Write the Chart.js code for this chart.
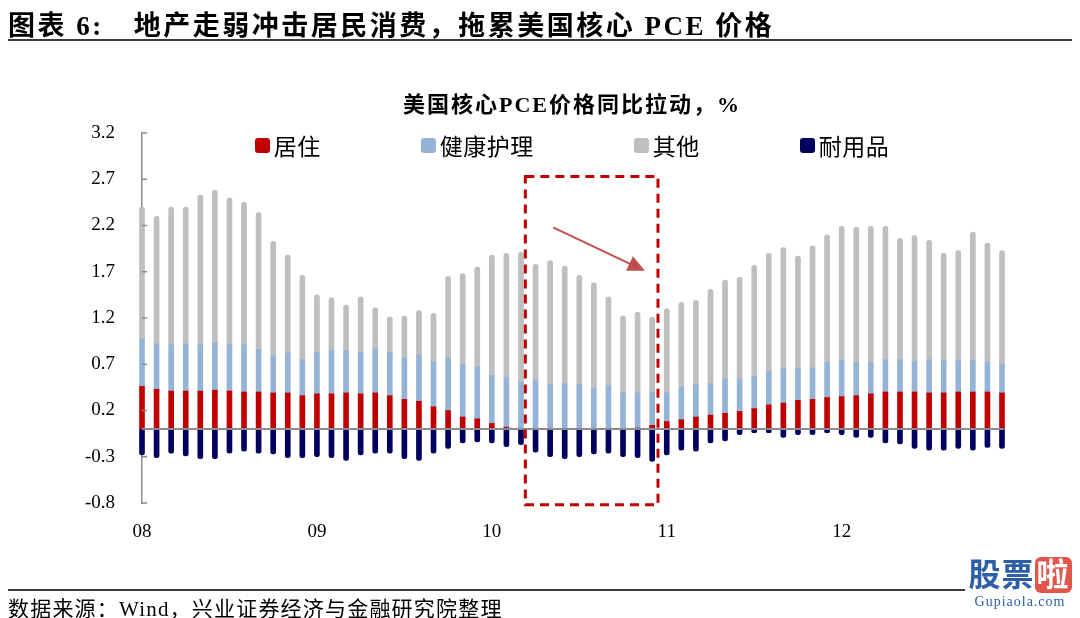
<!DOCTYPE html>
<html>
<head>
<meta charset="utf-8">
<script src="https://cdn.jsdelivr.net/npm/chart.js@4.4.0/dist/chart.umd.min.js"></script>
<style>
    html, body { margin: 0; padding: 0; background: #fff; }
    body { width: 1080px; height: 618px; position: relative; overflow: hidden;
           font-family: 'Liberation Serif', 'Noto Sans CJK SC', serif; color: #000; }
    #wrap { position: absolute; left: 0; top: 0; width: 1080px; height: 618px; }
    #page-title { position: absolute; left: 8px; top: 4px; font-size: 27px; font-weight: bold;
                  letter-spacing: 2.5px; white-space: nowrap; }
    #page-title .gap { display: inline-block; width: 30px; }
    #title-rule { position: absolute; left: 8px; top: 39px; width: 1064px; height: 2px; background: #3c3c3c; }
    #chart-title { position: absolute; left: 142px; width: 860px; top: 86px; text-align: center;
                   font-size: 22px; font-weight: bold; letter-spacing: 2px; }
    #legend { position: absolute; left: 142px; width: 860px; top: 128px; display: flex;
              justify-content: center; gap: 100px; font-size: 23px; letter-spacing: 0.5px; }
    .item { display: flex; align-items: center; }
    .swatch { width: 15px; height: 15px; border-radius: 3px; margin-right: 4px; }
    #foot-rule { position: absolute; left: 8px; top: 589px; width: 957px; height: 2px; background: #3c3c3c; }
    #source { position: absolute; left: 8px; top: 592px; font-size: 21px; letter-spacing: 1.2px; white-space: nowrap; }
    #wm { position: absolute; left: 962px; top: 556px; width: 116px; text-align: center; }
    #wm .big { font-size: 32px; font-weight: bold; color: #2d5ea8; line-height: 38px; letter-spacing: 1px; }
    #wm .la { background: #e0564a; color: #fff; border-radius: 6px; padding: 0 2px; }
    #wm .small { font-size: 14px; color: #2d5ea8; line-height: 16px; letter-spacing: 1px; }
</style>
</head>
<body>
<div id="wrap"><canvas id="pceChart"></canvas></div>
<div id="page-title">图表 6:<span class="gap"></span>地产走弱冲击居民消费，拖累美国核心 PCE 价格</div>
<div id="title-rule"></div>
<div id="chart-title">美国核心PCE价格同比拉动，%</div>
<div id="legend"></div>
<div id="foot-rule"></div>
<div id="source">数据来源：Wind，兴业证券经济与金融研究院整理</div>
<div id="wm"><div class="big">股票<span class="la">啦</span></div><div class="small">Gupiaola.com</div></div>
<script>
        // Monthly categories, Jan 2008 - Dec 2012
        const years = ['08', '09', '10', '11', '12'];
        const months = years.flatMap(y => Array.from({ length: 12 }, (_, i) => y + '-' + String(i + 1).padStart(2, '0')));
        const yTicks = [-0.8, -0.3, 0.2, 0.7, 1.2, 1.7, 2.2, 2.7, 3.2];

        // Contributions to core PCE yoy, percentage points
        const housing = [
            0.46, 0.43, 0.41, 0.41, 0.41, 0.42, 0.41, 0.40, 0.40, 0.39, 0.39, 0.36,
            0.38, 0.38, 0.39, 0.38, 0.39, 0.36, 0.32, 0.30, 0.24, 0.20, 0.13, 0.11,
            0.06, 0.02, 0.00, 0.00, 0.00, 0.00, 0.00, 0.00, 0.00, 0.00, 0.01, 0.04,
            0.08, 0.10, 0.13, 0.15, 0.17, 0.19, 0.22, 0.26, 0.28, 0.31, 0.32, 0.34,
            0.35, 0.36, 0.38, 0.40, 0.40, 0.40, 0.39, 0.39, 0.40, 0.40, 0.40, 0.39
        ];
        const health = [
            0.51, 0.49, 0.50, 0.51, 0.50, 0.51, 0.50, 0.51, 0.46, 0.40, 0.43, 0.39,
            0.45, 0.47, 0.46, 0.45, 0.48, 0.47, 0.45, 0.50, 0.49, 0.57, 0.57, 0.56,
            0.52, 0.54, 0.51, 0.52, 0.48, 0.49, 0.48, 0.44, 0.47, 0.39, 0.38, 0.36,
            0.31, 0.35, 0.35, 0.34, 0.37, 0.35, 0.35, 0.36, 0.37, 0.34, 0.34, 0.38,
            0.39, 0.36, 0.34, 0.35, 0.35, 0.33, 0.36, 0.35, 0.34, 0.34, 0.32, 0.31
        ];
        const other = [
            1.43, 1.38, 1.49, 1.48, 1.62, 1.65, 1.59, 1.54, 1.48, 1.24, 1.06, 0.91,
            0.62, 0.57, 0.49, 0.60, 0.44, 0.38, 0.45, 0.48, 0.52, 0.88, 0.98, 1.08,
            1.30, 1.34, 1.40, 1.26, 1.34, 1.27, 1.18, 1.14, 0.96, 0.83, 0.87, 0.81,
            0.91, 0.92, 0.91, 1.02, 1.07, 1.10, 1.20, 1.28, 1.31, 1.22, 1.32, 1.38,
            1.45, 1.46, 1.47, 1.44, 1.31, 1.36, 1.29, 1.16, 1.19, 1.39, 1.29, 1.23
        ];
        const durables = [
            -0.28, -0.31, -0.26, -0.29, -0.32, -0.32, -0.26, -0.24, -0.26, -0.27, -0.31, -0.31,
            -0.30, -0.31, -0.34, -0.28, -0.26, -0.26, -0.32, -0.34, -0.26, -0.21, -0.15, -0.14,
            -0.15, -0.19, -0.17, -0.25, -0.30, -0.32, -0.30, -0.27, -0.26, -0.30, -0.31, -0.35,
            -0.28, -0.23, -0.24, -0.15, -0.13, -0.06, -0.04, -0.04, -0.09, -0.06, -0.06, -0.04,
            -0.06, -0.09, -0.09, -0.15, -0.16, -0.21, -0.23, -0.23, -0.21, -0.23, -0.20, -0.21
        ];

        const datasets = [
            { label: '居住', data: housing, backgroundColor: '#c00000', borderRadius: 0 },
            { label: '健康护理', data: health, backgroundColor: '#95b3d7', borderRadius: 0 },
            { label: '其他', data: other, backgroundColor: '#bfbfbf', borderRadius: 3 },
            { label: '耐用品', data: durables, backgroundColor: '#00005e', borderRadius: 3 }
        ];
        datasets.forEach(ds => { ds.barThickness = 5; ds.stack = 'pce'; ds.clip = false; });

        // Legend built from the datasets
        const legendEl = document.getElementById('legend');
        datasets.forEach(ds => {
            const item = document.createElement('div');
            item.className = 'item';
            item.innerHTML = `<span class="swatch" style="background:${ds.backgroundColor}"></span>${ds.label}`;
            legendEl.appendChild(item);
        });

        // zero line, inner ticks, dashed highlight box and arrow
        const overlay = {
            id: 'overlay',
            afterDatasetsDraw(chart) {
                const { ctx, chartArea, scales: { x, y } } = chart;
                ctx.save();
                const y0 = y.getPixelForValue(0);
                ctx.strokeStyle = '#8c8c8c';
                ctx.lineWidth = 2;
                ctx.beginPath();
                ctx.moveTo(chartArea.left, y0);
                ctx.lineTo(chartArea.right + 2, y0);
                ctx.stroke();

                ctx.lineWidth = 1.5;
                yTicks.forEach(v => {
                    const py = y.getPixelForValue(v);
                    ctx.beginPath();
                    ctx.moveTo(chartArea.left, py);
                    ctx.lineTo(chartArea.left + 5, py);
                    ctx.stroke();
                });

                const bx1 = x.getPixelForValue(26.3), bx2 = x.getPixelForValue(35.4);
                const by1 = y.getPixelForValue(2.73), by2 = y.getPixelForValue(-0.82);
                ctx.strokeStyle = '#c00000';
                ctx.lineWidth = 3;
                ctx.setLineDash([9, 6]);
                ctx.strokeRect(bx1, by1, bx2 - bx1, by2 - by1);
                ctx.setLineDash([]);

                const ax1 = x.getPixelForValue(28.2), ay1 = y.getPixelForValue(2.18);
                const ax2 = x.getPixelForValue(34.5), ay2 = y.getPixelForValue(1.71);
                const ang = Math.atan2(ay2 - ay1, ax2 - ax1);
                ctx.strokeStyle = '#c0504d';
                ctx.fillStyle = '#c0504d';
                ctx.lineWidth = 2;
                ctx.beginPath();
                ctx.moveTo(ax1, ay1);
                ctx.lineTo(ax2 - 14 * Math.cos(ang), ay2 - 14 * Math.sin(ang));
                ctx.stroke();
                ctx.beginPath();
                ctx.moveTo(ax2, ay2);
                ctx.lineTo(ax2 - 17 * Math.cos(ang) + 8 * Math.sin(ang), ay2 - 17 * Math.sin(ang) - 8 * Math.cos(ang));
                ctx.lineTo(ax2 - 17 * Math.cos(ang) - 8 * Math.sin(ang), ay2 - 17 * Math.sin(ang) + 8 * Math.cos(ang));
                ctx.closePath();
                ctx.fill();
                ctx.restore();
            }
        };

        const ctx = document.getElementById('pceChart').getContext('2d');
        new Chart(ctx, {
            type: 'bar',
            data: { labels: months, datasets: datasets },
            options: {
                responsive: true,
                maintainAspectRatio: false,
                animation: false,
                layout: { padding: { top: 133, right: 78, bottom: 70, left: 0 } },
                plugins: {
                    legend: { display: false },
                    tooltip: { enabled: false }
                },
                scales: {
                    x: {
                        stacked: true,
                        offset: false,
                        grid: { display: false, drawTicks: false },
                        border: { display: false },
                        ticks: {
                            autoSkip: false,
                            maxRotation: 0,
                            padding: 18,
                            color: '#000',
                            font: { family: 'Liberation Serif', size: 19 },
                            callback: (v, i) => i % 12 === 0 ? months[i].slice(0, 2) : ''
                        },
                        afterFit: s => { s.height = 45; }
                    },
                    y: {
                        stacked: true,
                        min: -0.8,
                        max: 3.2,
                        grid: { display: false, drawTicks: false },
                        border: { display: true, color: '#8c8c8c', width: 1.5 },
                        ticks: {
                            stepSize: 0.5,
                            padding: 27,
                            color: '#000',
                            font: { family: 'Liberation Serif', size: 19 },
                            callback: v => Number(v).toFixed(1)
                        },
                        afterFit: s => { s.width = 142; }
                    }
                }
            },
            plugins: [overlay]
        });
</script>
</body>
</html>
